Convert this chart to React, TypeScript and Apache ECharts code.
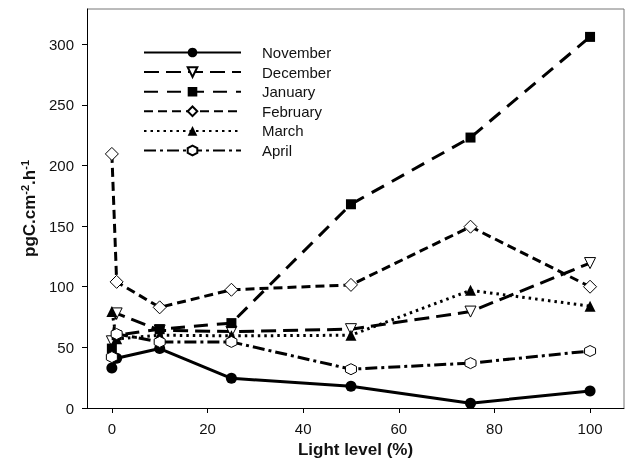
import React, { useEffect, useRef } from "react";
import * as echarts from "echarts";

const lightLevels = [0, 1, 10, 25, 50, 75, 100];
const november = [33, 41, 49, 24.5, 18, 4, 14];
const december = [55, 78, 64, 63, 65, 79.5, 119.5];
const january = [49, 60, 65, 70, 168, 223, 306];
const february = [209.5, 104, 83, 97.5, 101.5, 149.5, 100];
const march = [79.5, 57, 60, 59.5, 60, 97, 84];
const april = [42, 61, 54.5, 54.5, 32, 37, 47];

const xTicks = [0, 20, 40, 60, 80, 100];
const yTicks = [0, 50, 100, 150, 200, 250, 300];

const HEX = "path://M0,-1 L0.866,-0.5 L0.866,0.5 L0,1 L-0.866,0.5 L-0.866,-0.5 Z";

const pairs = (ys: number[]) => lightLevels.map((x, i) => [x, ys[i]]);

export default function App() {
  const ref = useRef<HTMLDivElement>(null);
  useEffect(() => {
    if (!ref.current) return;
    const chart = echarts.init(ref.current, null, { renderer: "svg" });
    const mk = (
      name: string,
      ys: number[],
      dash: any,
      symbol: string,
      size: number,
      fill: string,
      rotate = 0
    ) => ({
      name,
      type: "line",
      data: pairs(ys),
      symbol,
      symbolSize: size,
      symbolRotate: rotate,
      showAllSymbol: true,
      itemStyle: { color: fill, borderColor: "#000", borderWidth: fill === "#fff" ? 1 : 0 },
      lineStyle: { color: "#000", width: 3, type: dash, cap: "butt" },
      emphasis: { disabled: true },
    });
    const font = "Liberation Sans, Arial";
    chart.setOption({
      animation: false,
      grid: { left: 87, top: 9, right: 14, bottom: 65, containLabel: false },
      legend: {
        left: 138,
        top: 40,
        orient: "vertical",
        itemWidth: 97,
        itemHeight: 12,
        itemGap: 4.6,
        textStyle: { fontFamily: font, fontSize: 15, color: "#111", padding: [0, 0, 0, 16] },
        data: ["November", "December", "January", "February", "March", "April"],
      },
      xAxis: {
        type: "value",
        min: -5.2,
        max: 107.1,
        name: "Light level (%)",
        nameLocation: "middle",
        nameGap: 30,
        nameTextStyle: { fontFamily: font, fontSize: 17, fontWeight: "bold", color: "#111" },
        splitLine: { show: false },
        axisLine: { show: true, onZero: false, lineStyle: { color: "#000", width: 1 } },
        axisTick: { show: true, length: 5, customValues: xTicks, lineStyle: { color: "#000" } },
        axisLabel: { customValues: xTicks, fontFamily: font, fontSize: 15, color: "#111", margin: 13 },
      },
      yAxis: {
        type: "value",
        min: 0,
        max: 329,
        name: "{b|pgC.cm}{s|-2}{b|.h}{s|-1}",
        nameLocation: "middle",
        nameRotate: 90,
        nameGap: 45,
        nameTextStyle: {
          fontFamily: font,
          fontWeight: "bold",
          color: "#111",
          rich: {
            b: { fontFamily: font, fontSize: 17, fontWeight: "bold", color: "#111" },
            s: { fontFamily: font, fontSize: 11, fontWeight: "bold", color: "#111", padding: [0, 0, 10, 0] },
          },
        },
        splitLine: { show: false },
        axisLine: { show: true, onZero: false, lineStyle: { color: "#000", width: 1 } },
        axisTick: { show: true, length: 5, customValues: yTicks, lineStyle: { color: "#000" } },
        axisLabel: { customValues: yTicks, fontFamily: font, fontSize: 15, color: "#111", margin: 13 },
      },
      graphic: [
        {
          type: "polyline",
          shape: { points: [[87, 9], [624, 9], [624, 408]] },
          style: { stroke: "#777", lineWidth: 1, fill: null },
          silent: true,
        },
      ],
      series: [
        mk("November", november, "solid", "circle", 11, "#000"),
        mk("December", december, [15, 7], "triangle", 11, "#fff", 180),
        mk("January", january, [14, 9], "rect", 10, "#000"),
        mk("February", february, [9, 5], "diamond", 13, "#fff"),
        mk("March", march, [2.5, 4], "triangle", 11, "#000"),
        mk("April", april, [12, 4, 3, 4], HEX, 11, "#fff"),
      ],
    });
    return () => chart.dispose();
  }, []);
  return <div ref={ref} style={{ position: "fixed", left: 0, top: 0, width: 638, height: 473 }} />;
}
